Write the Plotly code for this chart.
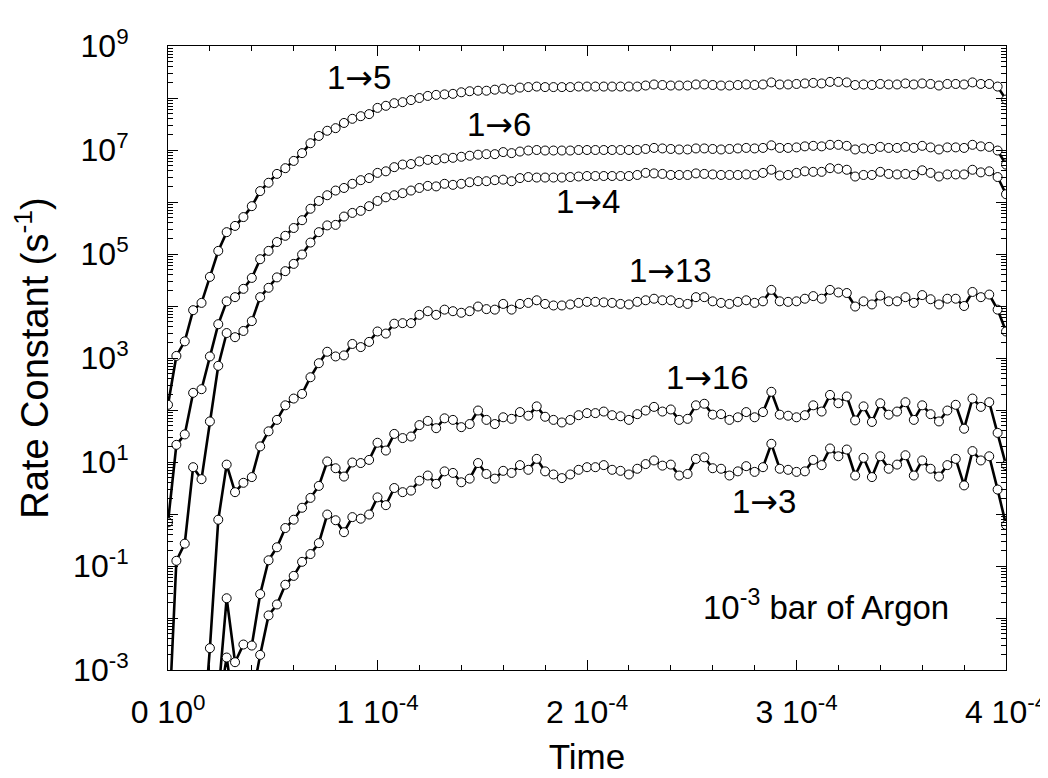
import plotly.graph_objects as go

# Time grid: 101 samples from 0 to 4e-4 s
TIME_STEP = 4e-6
time = [i * TIME_STEP for i in range(101)]

# log10 of rate constants (s^-1) (None = below the plotted range, unreadable)
log_k15 = [2.10, 3.04, 3.32, 3.92, 4.06, 4.56, 5.06, 5.42, 5.54, 5.71,
           5.92, 6.21, 6.37, 6.54, 6.65, 6.79, 6.94, 7.13, 7.27, 7.37,
           7.42, 7.52, 7.60, 7.65, 7.69, 7.81, 7.85, 7.90, 7.92, 7.96,
           8.00, 8.04, 8.06, 8.07, 8.08, 8.11, 8.13, 8.14, 8.14, 8.16,
           8.18, 8.16, 8.20, 8.21, 8.22, 8.21, 8.21, 8.21, 8.21, 8.22,
           8.22, 8.22, 8.22, 8.22, 8.22, 8.22, 8.22, 8.24, 8.26, 8.25,
           8.24, 8.24, 8.24, 8.26, 8.26, 8.25, 8.24, 8.24, 8.25, 8.26,
           8.25, 8.26, 8.30, 8.26, 8.26, 8.27, 8.28, 8.29, 8.28, 8.31,
           8.31, 8.30, 8.25, 8.26, 8.25, 8.27, 8.26, 8.26, 8.28, 8.26,
           8.28, 8.27, 8.24, 8.27, 8.27, 8.26, 8.30, 8.27, 8.27, 8.22,
           7.97]
log_k16 = [-0.16, 1.33, 1.53, 2.33, 2.40, 3.03, 3.65, 4.09, 4.17, 4.33,
           4.54, 4.90, 5.06, 5.23, 5.35, 5.50, 5.65, 5.87, 6.02, 6.13,
           6.22, 6.27, 6.35, 6.42, 6.46, 6.56, 6.59, 6.67, 6.72, 6.73,
           6.78, 6.81, 6.81, 6.84, 6.85, 6.87, 6.89, 6.91, 6.92, 6.92,
           6.96, 6.94, 6.97, 6.99, 7.00, 6.99, 6.99, 6.99, 6.99, 7.00,
           7.00, 7.00, 7.00, 7.00, 7.00, 7.00, 7.00, 7.02, 7.04, 7.03,
           7.02, 7.01, 7.01, 7.03, 7.03, 7.02, 7.01, 7.02, 7.03, 7.04,
           7.03, 7.04, 7.09, 7.04, 7.04, 7.05, 7.07, 7.08, 7.07, 7.10,
           7.10, 7.08, 7.01, 7.03, 7.02, 7.06, 7.04, 7.04, 7.06, 7.04,
           7.08, 7.05, 7.01, 7.05, 7.05, 7.04, 7.10, 7.07, 7.06, 6.99,
           6.72]
log_k14 = [-4.40, -0.90, -0.57, 0.90, 0.67, 1.78, 2.85, 3.48, 3.40, 3.52,
           3.71, 4.17, 4.35, 4.55, 4.67, 4.81, 4.99, 5.22, 5.42, 5.55,
           5.56, 5.72, 5.79, 5.83, 5.92, 6.02, 6.09, 6.13, 6.17, 6.22,
           6.27, 6.31, 6.30, 6.35, 6.33, 6.35, 6.38, 6.40, 6.40, 6.42,
           6.43, 6.40, 6.46, 6.48, 6.47, 6.47, 6.47, 6.47, 6.48, 6.49,
           6.50, 6.50, 6.50, 6.50, 6.50, 6.50, 6.52, 6.56, 6.55, 6.54,
           6.52, 6.52, 6.52, 6.55, 6.54, 6.53, 6.52, 6.52, 6.52, 6.53,
           6.52, 6.56, 6.62, 6.51, 6.52, 6.56, 6.59, 6.58, 6.58, 6.65,
           6.64, 6.62, 6.49, 6.52, 6.52, 6.58, 6.54, 6.53, 6.54, 6.52,
           6.61, 6.56, 6.49, 6.53, 6.53, 6.53, 6.62, 6.57, 6.59, 6.48,
           6.15]
log_k113 = [None, None, None, None, -4.65, -2.58, -0.11, 0.95, 0.42, 0.60,
            0.71, 1.30, 1.59, 1.81, 2.09, 2.22, 2.31, 2.63, 2.90, 3.12,
            3.03, 3.05, 3.27, 3.21, 3.31, 3.51, 3.47, 3.66, 3.67, 3.67,
            3.83, 3.90, 3.83, 3.93, 3.90, 3.87, 3.90, 3.99, 3.94, 3.93,
            4.04, 3.93, 4.04, 4.06, 4.11, 4.04, 4.01, 4.01, 4.03, 4.06,
            4.08, 4.08, 4.07, 4.06, 4.04, 4.03, 4.08, 4.11, 4.14, 4.11,
            4.11, 4.06, 4.04, 4.17, 4.17, 4.09, 4.06, 4.04, 4.08, 4.11,
            4.06, 4.09, 4.31, 4.09, 4.08, 4.09, 4.14, 4.19, 4.14, 4.31,
            4.26, 4.25, 3.99, 4.09, 4.03, 4.20, 4.09, 4.09, 4.17, 4.06,
            4.21, 4.13, 4.03, 4.14, 4.14, 4.00, 4.27, 4.17, 4.22, 3.93,
            3.51]
log_k116 = [None, None, None, None, None, None, -3.50, -1.62, -2.85, -2.51,
            -2.53, -1.54, -0.89, -0.64, -0.27, -0.11, 0.12, 0.31, 0.54, 1.01,
            0.88, 0.72, 0.99, 0.98, 1.04, 1.37, 1.22, 1.54, 1.46, 1.49,
            1.71, 1.79, 1.65, 1.84, 1.81, 1.67, 1.73, 1.99, 1.81, 1.73,
            1.86, 1.83, 1.96, 1.89, 2.07, 1.87, 1.81, 1.76, 1.81, 1.90,
            1.94, 1.94, 1.97, 1.90, 1.88, 1.81, 1.92, 1.99, 2.06, 1.97,
            2.01, 1.81, 1.83, 2.09, 2.12, 1.91, 1.92, 1.81, 1.86, 1.96,
            1.86, 1.96, 2.35, 1.91, 1.89, 1.86, 1.90, 2.09, 1.97, 2.29,
            2.13, 2.26, 1.80, 2.07, 1.77, 2.13, 1.91, 1.97, 2.15, 1.81,
            2.09, 1.92, 1.78, 1.99, 2.10, 1.64, 2.22, 2.06, 2.15, 1.56,
            0.94]
log_k13 = [None, None, None, None, None, None, -3.76, -2.76, -3.88, -3.54,
           -3.56, -2.71, -1.95, -1.74, -1.36, -1.19, -0.92, -0.77, -0.56, -0.01,
           -0.12, -0.35, -0.06, -0.09, -0.01, 0.32, 0.17, 0.50, 0.42, 0.45,
           0.64, 0.74, 0.58, 0.82, 0.79, 0.61, 0.68, 0.98, 0.77, 0.68,
           0.83, 0.79, 0.94, 0.85, 1.06, 0.82, 0.76, 0.69, 0.76, 0.85,
           0.90, 0.90, 0.94, 0.85, 0.83, 0.76, 0.87, 0.96, 1.03, 0.93,
           0.95, 0.74, 0.77, 1.06, 1.09, 0.88, 0.87, 0.74, 0.82, 0.92,
           0.81, 0.90, 1.35, 0.87, 0.85, 0.81, 0.82, 1.04, 0.94, 1.26,
           1.11, 1.24, 0.74, 1.08, 0.71, 1.11, 0.87, 0.95, 1.13, 0.74,
           1.03, 0.87, 0.72, 0.94, 1.06, 0.55, 1.21, 1.03, 1.11, 0.47,
           -0.21]

series = [
    ("1→5", log_k15),
    ("1→6", log_k16),
    ("1→4", log_k14),
    ("1→13", log_k113),
    ("1→16", log_k116),
    ("1→3", log_k13),
]

# Curve labels: (from, to) and anchor (time, log10 k)
label_from = [1, 1, 1, 1, 1, 1]
label_to = [5, 6, 4, 13, 16, 3]
label_time = [0.91e-4, 1.58e-4, 2.005e-4, 2.40e-4, 2.575e-4, 2.845e-4]
label_logk = [8.40, 7.50, 6.01, 4.68, 2.62, 0.24]

x_tick_vals = [0, 1e-4, 2e-4, 3e-4, 4e-4]
x_tick_text = ["0 10<sup>0</sup>", "1 10<sup>-4</sup>", "2 10<sup>-4</sup>",
               "3 10<sup>-4</sup>", "4 10<sup>-4</sup>"]
y_exponents = list(range(-3, 10))
y_tick_vals = [10.0 ** e for e in y_exponents]
y_tick_text = [("10<sup>%d</sup>" % e) if e % 2 != 0 else "" for e in y_exponents]

ARROW = '<span style="font-family:DejaVu Sans">→</span>'

fig = go.Figure()
for name, logs in series:
    yvals = [None if v is None else 10.0 ** v for v in logs]
    fig.add_trace(go.Scatter(
        x=time, y=yvals, mode="lines+markers", name=name,
        line=dict(color="black", width=2.6),
        marker=dict(symbol="circle", size=9, color="white",
                    line=dict(color="black", width=1)),
        connectgaps=False, cliponaxis=True,
    ))

for a, b, lx, ly in zip(label_from, label_to, label_time, label_logk):
    fig.add_annotation(x=lx, y=ly, xref="x", yref="y",
                       text="%d%s%d" % (a, ARROW, b),
                       showarrow=False, font=dict(size=33, color="black"))

fig.add_annotation(x=3.14e-4, y=-1.75, xref="x", yref="y",
                   text="10<sup>-3</sup> bar of Argon", showarrow=False,
                   font=dict(size=33, color="black"))

axis_common = dict(
    showline=True, linecolor="black", linewidth=1, mirror="allticks",
    ticks="inside", ticklen=10, tickwidth=1, tickcolor="black",
    showgrid=False, zeroline=False, automargin=False,
)

fig.update_layout(
    width=1048, height=778,
    margin=dict(l=160, r=50, t=38, b=116),
    paper_bgcolor="white", plot_bgcolor="white",
    showlegend=False,
    font=dict(family="Liberation Sans, Arial, sans-serif", size=32, color="black"),
    xaxis=dict(
        range=[0, 4e-4], tickmode="array", tickvals=x_tick_vals, ticktext=x_tick_text,
        ticklabelstandoff=14,
        minor=dict(dtick=2e-5, ticks="inside", ticklen=5, tickcolor="black", showgrid=False),
        title=dict(text="Time", font=dict(size=35)),
        **axis_common,
    ),
    yaxis=dict(
        type="log", range=[-3, 9], tickmode="array", tickvals=y_tick_vals, ticktext=y_tick_text,
        ticklabelstandoff=32,
        minor=dict(dtick="D1", ticks="inside", ticklen=5, tickcolor="black", showgrid=False),
        title=dict(text="Rate Constant (s<sup>-1</sup>)", font=dict(size=38)),
        **axis_common,
    ),
)

fig.write_html("out.html")
